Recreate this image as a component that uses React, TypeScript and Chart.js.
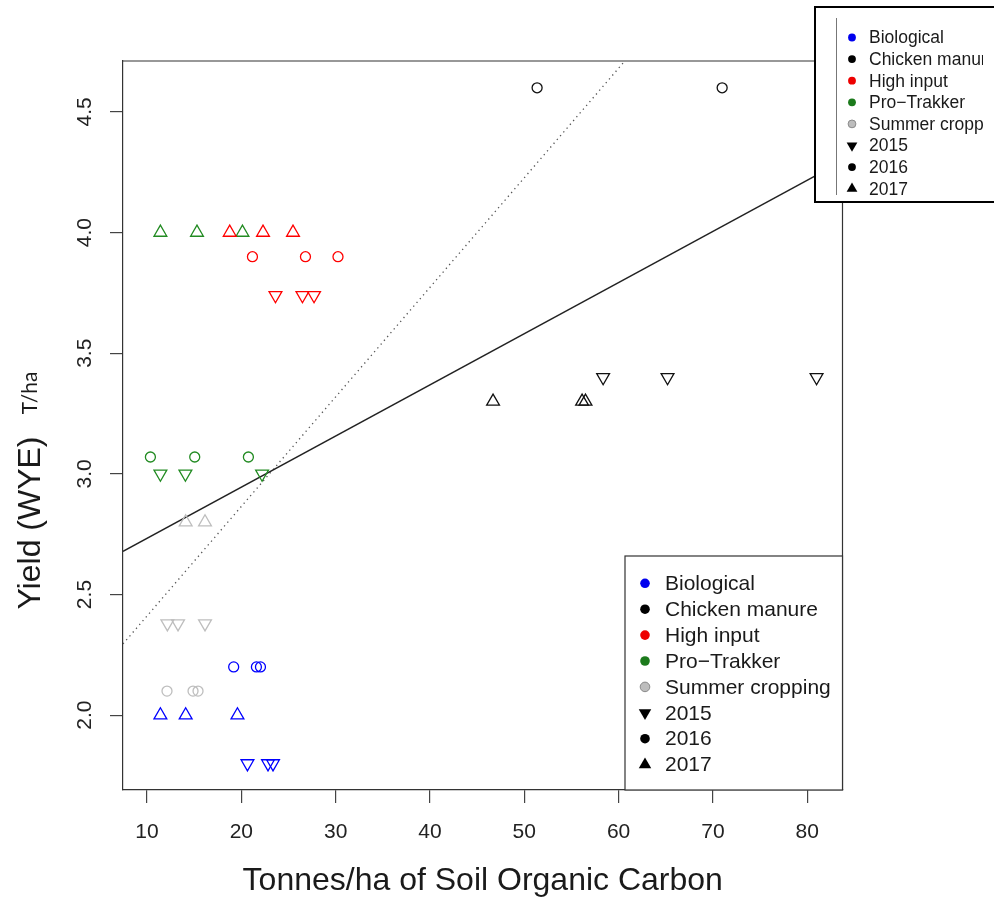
import React, { useEffect, useRef } from 'react';
import { Chart, registerables } from 'chart.js';

Chart.register(...registerables);

// ---- categories ----
const treatments = ['Biological', 'Chicken manure', 'High input', 'Pro\u2212Trakker', 'Summer cropping'];
const treatmentColors = ['#0000FF', '#111111', '#FF0000', '#228B22', '#BEBEBE'];
const legendColors = ['#0000EE', '#000000', '#EE0000', '#1C7A1C', '#BDBDBD'];
const years = ['2015', '2016', '2017'];
const yearShapes = ['down', 'circle', 'up'];

// ---- series values (index 0: 2015, 1: 2016, 2: 2017) ----
const biologicalSoc = [[20.65, 22.83, 23.36], [19.19, 21.6, 22.03], [11.42, 14.1, 19.59]];
const biologicalYield = [[1.8, 1.8, 1.8], [2.2, 2.2, 2.2], [2.0, 2.0, 2.0]];

const chickenSoc = [[58.36, 65.19, 80.99], [51.36, 70.98], [46.69, 56.13, 56.49]];
const chickenYield = [[3.4, 3.4, 3.4], [4.6, 4.6], [3.3, 3.3, 3.3]];

const highInputSoc = [[23.62, 26.48, 27.71], [21.18, 26.8, 30.25], [18.77, 22.3, 25.48]];
const highInputYield = [[3.74, 3.74, 3.74], [3.9, 3.9, 3.9], [4.0, 4.0, 4.0]];

const proTrakkerSoc = [[11.42, 14.07, 22.2], [10.36, 15.06, 20.75], [11.42, 15.3, 20.12]];
const proTrakkerYield = [[3.0, 3.0, 3.0], [3.07, 3.07, 3.07], [4.0, 4.0, 4.0]];

const summerSoc = [[12.16, 13.29, 16.15], [12.12, 14.88, 15.41], [14.1, 16.15]];
const summerYield = [[2.38, 2.38, 2.38], [2.1, 2.1, 2.1], [2.8, 2.8]];

// ---- fitted lines (intercept, slope) ----
const solidFit = [2.521, 0.0212];
const dottedFit = [1.957, 0.0454];

// ---- ticks & ranges ----
const xTicks = [10, 20, 30, 40, 50, 60, 70, 80];
const yTicks = [2.0, 2.5, 3.0, 3.5, 4.0, 4.5];
const xRange = [7.455, 83.74];
const yRange = [1.69, 4.711];

const xTitle = 'Tonnes/ha of Soil Organic Carbon';
const yTitle = 'Yield (WYE)';
const yUnit = 'T/ha';

const FONT = '"Liberation Sans", Arial, Helvetica, sans-serif';

const socAll = [biologicalSoc, chickenSoc, highInputSoc, proTrakkerSoc, summerSoc];
const yieldAll = [biologicalYield, chickenYield, highInputYield, proTrakkerYield, summerYield];

function markerPath(ctx: CanvasRenderingContext2D, shape: string, x: number, y: number, r: number) {
  ctx.beginPath();
  if (shape === 'circle') {
    ctx.arc(x, y, r, 0, Math.PI * 2);
  } else {
    const dir = shape === 'up' ? -1 : 1;
    const h = (r * Math.sqrt(3)) / 2;
    ctx.moveTo(x, y + dir * r);
    ctx.lineTo(x + h, y - (dir * r) / 2);
    ctx.lineTo(x - h, y - (dir * r) / 2);
    ctx.closePath();
  }
}

type LegendCfg = {
  left: number; top: number; right: number; bottom: number;
  borderW: number; borderC: string;
  markerX: number; textX: number; firstY: number; step: number;
  fontSize: number; circleR: number; triR: number; clipRight: number;
};

function drawLegend(ctx: CanvasRenderingContext2D, c: LegendCfg) {
  ctx.save();
  ctx.fillStyle = '#ffffff';
  ctx.fillRect(c.left, c.top, c.right - c.left, c.bottom - c.top);
  ctx.strokeStyle = c.borderC;
  ctx.lineWidth = c.borderW;
  ctx.strokeRect(c.left, c.top, c.right - c.left, c.bottom - c.top);
  ctx.beginPath();
  ctx.rect(c.left, c.top, c.clipRight - c.left, c.bottom - c.top);
  ctx.clip();
  const entries: { label: string; shape: string; color: string; stroke?: string }[] = [];
  treatments.forEach((t, i) => entries.push({ label: t, shape: 'circle', color: legendColors[i], stroke: i === 4 ? '#8a8a8a' : undefined }));
  years.forEach((y, i) => entries.push({ label: y, shape: yearShapes[i], color: '#000000' }));
  ctx.font = `${c.fontSize}px ${FONT}`;
  ctx.textBaseline = 'middle';
  ctx.textAlign = 'left';
  entries.forEach((e, i) => {
    const y = c.firstY + i * c.step;
    markerPath(ctx, e.shape, c.markerX, y, e.shape === 'circle' ? c.circleR : c.triR);
    ctx.fillStyle = e.color;
    ctx.fill();
    if (e.stroke) {
      ctx.strokeStyle = e.stroke;
      ctx.lineWidth = 1;
      ctx.stroke();
    }
    ctx.fillStyle = '#1a1a1a';
    ctx.fillText(e.label, c.textX, y + 1);
  });
  ctx.restore();
}

const overlayPlugin = {
  id: 'overlay',
  afterDatasetsDraw(chart: any) {
    const { ctx, chartArea: a } = chart;
    ctx.save();
    ctx.strokeStyle = '#333333';
    ctx.lineWidth = 1.2;
    ctx.beginPath();
    ctx.moveTo(a.left, a.top);
    ctx.lineTo(a.right, a.top);
    ctx.lineTo(a.right, a.bottom);
    ctx.stroke();
    ctx.restore();
  },
  afterDraw(chart: any) {
    const { ctx, chartArea: a } = chart;
    // bottom-right legend
    drawLegend(ctx, {
      left: 625, top: 556, right: a.right, bottom: a.bottom,
      borderW: 1.2, borderC: '#333333',
      markerX: 645, textX: 665, firstY: 583.3, step: 25.9,
      fontSize: 21, circleR: 4.8, triR: 7.2, clipRight: 994,
    });
    // top-right (cropped) legend
    drawLegend(ctx, {
      left: 815, top: 7, right: 1010, bottom: 202,
      borderW: 2, borderC: '#000000',
      markerX: 852, textX: 869, firstY: 37.5, step: 21.6,
      fontSize: 17.5, circleR: 3.9, triR: 6.2, clipRight: 983,
    });
    ctx.save();
    ctx.strokeStyle = '#777777';
    ctx.lineWidth = 1;
    ctx.beginPath();
    ctx.moveTo(836.5, 18);
    ctx.lineTo(836.5, 195);
    ctx.stroke();
    // axis titles
    ctx.fillStyle = '#1a1a1a';
    ctx.textAlign = 'center';
    ctx.textBaseline = 'alphabetic';
    ctx.font = `32px ${FONT}`;
    ctx.fillText(xTitle, (a.left + a.right) / 2, 890);
    ctx.save();
    ctx.translate(40, 523);
    ctx.rotate(-Math.PI / 2);
    ctx.fillText(yTitle, 0, 0);
    ctx.restore();
    ctx.save();
    ctx.translate(37, 393);
    ctx.rotate(-Math.PI / 2);
    ctx.font = '21px Lato, "Open Sans", sans-serif';
    ctx.fillText(yUnit, 0, 0);
    ctx.restore();
    ctx.restore();
  },
};

export default function App() {
  const ref = useRef<HTMLCanvasElement>(null);
  useEffect(() => {
    const datasets: any[] = [];
    treatments.forEach((t, ti) => {
      years.forEach((yr, yi) => {
        const shape = yearShapes[yi];
        const xs = socAll[ti][yi];
        const ys = yieldAll[ti][yi];
        datasets.push({
          label: `${t} ${yr}`,
          data: xs.map((x, i) => ({ x, y: ys[i] })),
          pointStyle: shape === 'circle' ? 'circle' : 'triangle',
          pointRotation: shape === 'down' ? 180 : 0,
          pointRadius: shape === 'circle' ? 5 : 7.4,
          pointHoverRadius: shape === 'circle' ? 5 : 7.4,
          pointBorderColor: treatmentColors[ti],
          pointBackgroundColor: 'rgba(0,0,0,0)',
          pointBorderWidth: 1.3,
          showLine: false,
        });
      });
    });
    const fitLine = (fit: number[]) => [xRange[0], xRange[1]].map((x) => ({ x, y: fit[0] + fit[1] * x }));
    datasets.push({
      label: 'fit',
      data: fitLine(solidFit),
      showLine: true,
      borderColor: '#222222',
      borderWidth: 1.5,
      pointRadius: 0,
      fill: false,
    });
    datasets.push({
      label: 'fit dotted',
      data: fitLine(dottedFit),
      showLine: true,
      borderColor: '#555555',
      borderWidth: 1.3,
      borderDash: [1.3, 3.7],
      pointRadius: 0,
      fill: false,
    });

    const gridCfg = { drawOnChartArea: false, drawTicks: true, tickLength: 13, color: '#444444', lineWidth: 1.2 };
    const chart = new Chart(ref.current!, {
      type: 'scatter',
      data: { datasets },
      options: {
        responsive: false,
        animation: false,
        events: [],
        layout: { padding: { left: 0, top: 61, right: 151.5, bottom: 0 } },
        plugins: { legend: { display: false }, tooltip: { enabled: false }, title: { display: false } },
        scales: {
          x: {
            type: 'linear',
            min: xRange[0],
            max: xRange[1],
            afterBuildTicks: (s: any) => { s.ticks = xTicks.map((v) => ({ value: v })); },
            afterFit: (s: any) => { s.height = 111; },
            grid: gridCfg,
            border: { display: true, color: '#333333', width: 1.2 },
            ticks: {
              font: { family: FONT, size: 21 },
              color: '#222222',
              padding: 17,
              minRotation: 0,
              maxRotation: 0,
              autoSkip: false,
              callback: (v: any) => String(v),
            },
          },
          y: {
            type: 'linear',
            min: yRange[0],
            max: yRange[1],
            afterBuildTicks: (s: any) => { s.ticks = yTicks.map((v) => ({ value: v })); },
            afterFit: (s: any) => { s.width = 123; },
            grid: gridCfg,
            border: { display: true, color: '#333333', width: 1.2 },
            ticks: {
              font: { family: FONT, size: 21 },
              color: '#222222',
              padding: 10,
              minRotation: 90,
              maxRotation: 90,
              crossAlign: 'center',
              autoSkip: false,
              callback: (v: any) => Number(v).toFixed(1),
            },
          },
        },
      },
      plugins: [overlayPlugin],
    } as any);
    return () => chart.destroy();
  }, []);
  return (
    <div style={{ position: 'absolute', left: 0, top: 0, width: 994, height: 901, background: '#ffffff' }}>
      <canvas ref={ref} width={994} height={901} style={{ display: 'block', width: 994, height: 901 }} />
    </div>
  );
}
